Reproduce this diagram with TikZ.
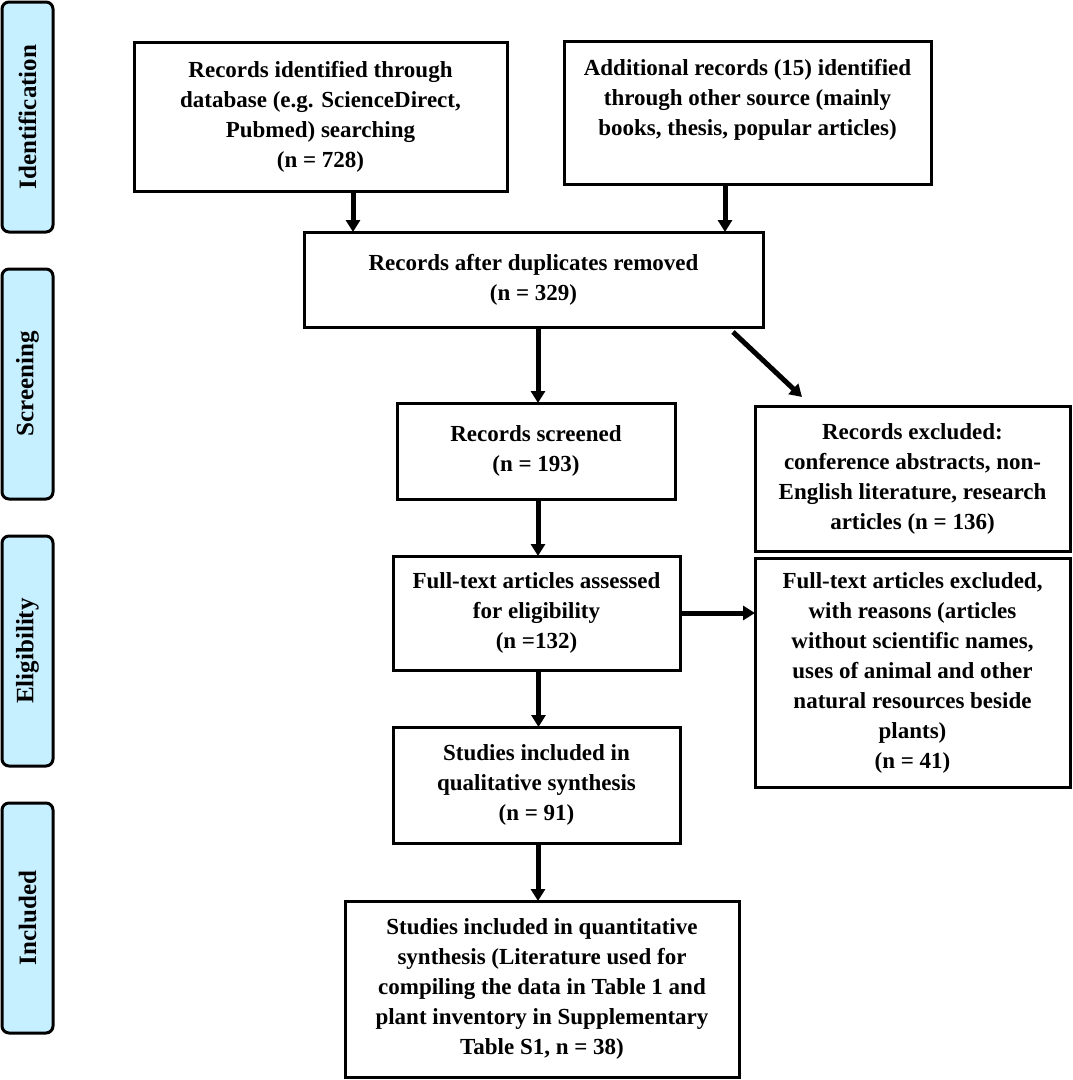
\documentclass[tikz,border=0pt]{standalone}
\usepackage{fontspec}
\setmainfont{Liberation Serif}
\usetikzlibrary{arrows.meta}
\definecolor{barblue}{RGB}{198,239,255}
\begin{document}
\begin{tikzpicture}[x=1pt,y=-1pt,
  box/.style={draw, line width=3pt, align=center, inner sep=0pt, outer sep=0pt,
    font=\fontsize{23}{30}\selectfont\bfseries},
  bar/.style={draw, line width=3pt, fill=barblue, rounded corners=7pt, rotate=90,
    minimum width=230pt, minimum height=51pt, inner sep=0pt, outer sep=0pt,
    font=\fontsize{25}{30}\selectfont\bfseries},
  arr/.style={line width=5pt, -{Triangle[width=14pt,length=12pt]}}]
\useasboundingbox (0,0) rectangle (1072,1080);

% phase bars
\node[bar] (id)   at (27.5,117) {Identification};
\node[bar] (scr)  at (27.5,384) {Screening};
\node[bar] (elig) at (27.5,651) {Eligibility};
\node[bar] (inc)  at (27.5,918) {Included};

% boxes
\node[box, minimum width=373pt, minimum height=149pt] (b1) at (320.5,116.5)
  {Records identified through\\database (e.g. ScienceDirect,\\Pubmed) searching\\(n = 728)};
\node[box, minimum width=367pt, minimum height=143pt] (b2) at (747.5,112.5)
  {Additional records (15) identified\\through other source (mainly\\books, thesis, popular articles)\\\mbox{}};
\node[box, minimum width=459pt, minimum height=95pt] (b3) at (533.5,279.5)
  {Records after duplicates removed\\(n = 329)};
\node[box, minimum width=278pt, minimum height=96pt] (b4) at (536,451)
  {Records screened\\(n = 193)};
\node[box, minimum width=315pt, minimum height=145pt] (b5) at (912.5,478.5)
  {Records excluded:\\conference abstracts, non-\\English literature, research\\articles (n = 136)};
\node[box, minimum width=287pt, minimum height=114pt] (b6) at (536.5,613)
  {Full-text articles assessed\\for eligibility\\(n =132)};
\node[box, minimum width=315pt, minimum height=229pt] (b7) at (912.5,672.5)
  {Full-text articles excluded,\\with reasons (articles\\without scientific names,\\uses of animal and other\\natural resources beside\\plants)\\(n = 41)};
\node[box, minimum width=287pt, minimum height=116pt] (b8) at (536.5,785)
  {Studies included in\\qualitative synthesis\\(n = 91)};
\node[box, minimum width=394pt, minimum height=176pt] (b9) at (542,989)
  {Studies included in quantitative\\synthesis (Literature used for\\compiling the data in Table 1 and\\plant inventory in Supplementary\\Table S1, n = 38)};

% connectors
\coordinate (d1) at ([xshift=32.5pt]b1.south);
\coordinate (d2) at ([xshift=-22.5pt]b2.south);
\coordinate (m3) at ([xshift=4.5pt]b3.south);
\coordinate (m4) at ([xshift=2pt]b4.south);
\coordinate (m6) at ([xshift=2pt]b6.south);
\coordinate (m8) at ([xshift=1.5pt]b8.south);
\draw[arr] (d1) -- (d1 |- b3.north);
\draw[arr] (d2) -- (d2 |- b3.north);
\draw[arr] (m3) -- (m3 |- b4.north);
\coordinate (ds) at ([xshift=-30pt,yshift=-5pt]b3.south east);
\coordinate (de) at ([xshift=47pt,yshift=9pt]b5.north west);
\draw[arr] (ds) -- (de);
\draw[arr] (m4) -- (m4 |- b6.north);
\draw[arr] (b6.east) -- (b6.east -| b7.west);
\draw[arr] (m6) -- (m6 |- b8.north);
\draw[arr] (m8) -- (m8 |- b9.north);
\end{tikzpicture}
\end{document}
